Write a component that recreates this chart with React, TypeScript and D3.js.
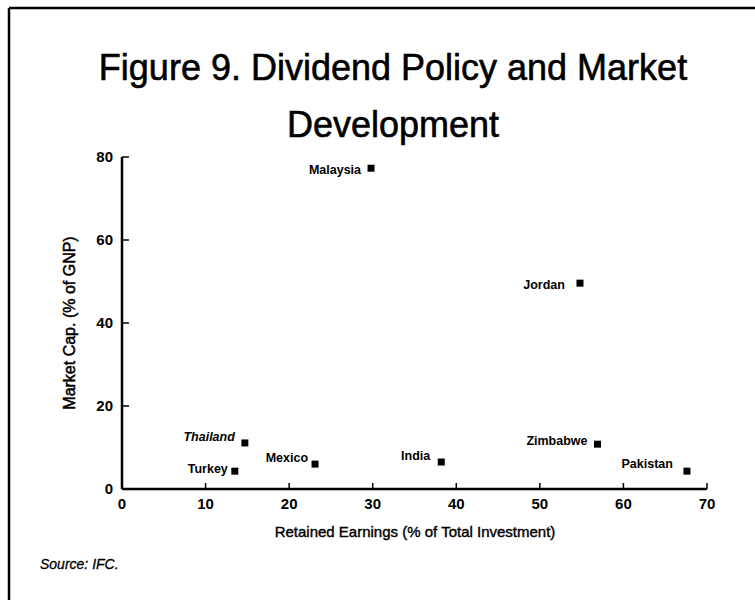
import React from "react";
import * as d3 from "d3";

const countries = ["Malaysia", "Jordan", "Thailand", "Turkey", "Mexico", "India", "Zimbabwe", "Pakistan"];
const retainedEarnings = [29.8, 54.8, 14.7, 13.5, 23.1, 38.2, 56.9, 67.6];
const marketCap = [77.3, 49.6, 11.1, 4.3, 6.0, 6.5, 10.8, 4.3];
const xTicks = [0, 10, 20, 30, 40, 50, 60, 70];
const yTicks = [0, 20, 40, 60, 80];
// label placement nudges [gap left of marker, baseline offset]
const labelNudge: [number, number][] = [
  [10, 6], [15, 6], [10, -2], [7, 2], [7, -2], [11, -2], [10, 1], [14, -3],
];
const italicLabels = ["Thailand"];

const W = 755;
const H = 600;
const FONT = "'Liberation Sans', Arial, Helvetica, sans-serif";

export default function App() {
  const x = d3.scaleLinear().domain([0, 70]).range([122, 707]);
  const y = d3.scaleLinear().domain([0, 80]).range([489, 157]);
  const sq = 7;
  return (
    <svg width={W} height={H} style={{ position: "absolute", left: 0, top: 0, background: "#fff" }} fontFamily={FONT}>
      <rect x={0} y={0} width={W} height={H} fill="#fff" />
      {/* frame */}
      <line x1={9} y1={8} x2={W} y2={8} stroke="#000" strokeWidth={2.5} />
      <line x1={9} y1={8} x2={9} y2={H} stroke="#000" strokeWidth={2.5} />
      {/* title */}
      <g fontSize={36} fill="#000" stroke="#000" strokeWidth={0.6} textAnchor="middle">
        <text x={393} y={80}>Figure 9. Dividend Policy and Market</text>
        <text x={393} y={137}>Development</text>
      </g>
      {/* axes */}
      <line x1={x(0)} y1={y(80)} x2={x(0)} y2={y(0)} stroke="#000" strokeWidth={2.5} />
      <line x1={x(0)} y1={y(0)} x2={x(70)} y2={y(0)} stroke="#000" strokeWidth={2.5} />
      {yTicks.map((t) => (
        <g key={"y" + t}>
          <line x1={x(0)} x2={x(0) + 7} y1={y(t)} y2={y(t)} stroke="#000" strokeWidth={1.5} />
          <text x={x(0) - 9} y={y(t)} dy="0.36em" textAnchor="end" fontSize={15} fontWeight="bold">
            {t}
          </text>
        </g>
      ))}
      {xTicks.map((t) => (
        <g key={"x" + t}>
          <line x1={x(t)} x2={x(t)} y1={y(0)} y2={y(0) - 6} stroke="#000" strokeWidth={1.5} />
          <text x={x(t)} y={509} textAnchor="middle" fontSize={15} fontWeight="bold">
            {t}
          </text>
        </g>
      ))}
      <text x={415} y={537} textAnchor="middle" fontSize={15} stroke="#000" strokeWidth={0.4}>
        Retained Earnings (% of Total Investment)
      </text>
      <text transform={`translate(75,323) rotate(-90)`} textAnchor="middle" fontSize={16} stroke="#000" strokeWidth={0.5}>
        Market Cap. (% of GNP)
      </text>
      {/* points */}
      {countries.map((c, i) => {
        const cx = x(retainedEarnings[i]);
        const cy = y(marketCap[i]);
        const [gap, dy] = labelNudge[i];
        return (
          <g key={c}>
            <rect x={cx - sq / 2} y={cy - sq / 2} width={sq} height={sq} fill="#000" />
            <text
              x={cx - gap}
              y={cy + dy}
              textAnchor="end"
              fontSize={12.5}
              fontWeight="bold"
              fontStyle={italicLabels.includes(c) ? "italic" : "normal"}
            >
              {c}
            </text>
          </g>
        );
      })}
      <text x={40} y={569} fontSize={14} fontStyle="italic" stroke="#000" strokeWidth={0.3}>
        Source: IFC.
      </text>
    </svg>
  );
}
